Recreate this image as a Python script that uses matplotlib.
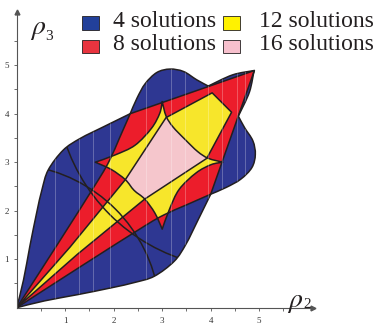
import numpy as np
import matplotlib
matplotlib.use('Agg')
import matplotlib.pyplot as plt
from matplotlib.path import Path
from matplotlib.patches import PathPatch, Rectangle, Arc

plt.rcParams['font.family'] = ['Liberation Serif', 'DejaVu Serif']
plt.rcParams['mathtext.fontset'] = 'stix'

BLUE, RED, YELLOW, PINK = '#2e3792', '#ec1d2b', '#f7e62b', '#f5c6cc'
EDGE = '#231f20'

# region outlines (data units). The picture is symmetric
# about y = x, so only the upper-left halves are listed, the rest is mirrored.

# outer boundary (4 solutions): origin -> V1 up the left side
outer_left_x = [0.0, 0.14, 0.27, 0.41, 0.52, 0.65, 0.96, 1.31, 1.79, 2.34]
outer_left_y = [0.0, 0.57, 1.26, 1.95, 2.43, 2.84, 3.25, 3.49, 3.73, 4.00]
# upper lobe: V1 -> where it meets the kite edge
lobe_x = [2.34, 2.48, 2.65, 2.89, 3.16, 3.44, 3.71, 3.95]
lobe_y = [4.00, 4.32, 4.62, 4.85, 4.92, 4.87, 4.70, 4.57]
# outer edge from there to the tip (runs just above the kite edge)
edge_x = [3.95, 4.45, 4.90]
edge_y = [4.57, 4.80, 4.89]

# red kite: origin -> V1 (the far edges go straight to the tip)
kite_x = [0.0, 0.85, 1.68, 1.92, 2.12, 2.34]
kite_y = [0.0, 1.32, 2.63, 3.05, 3.50, 4.00]
tip_x, tip_y = 4.90, 4.89

# inner (yellow) kite corners, origin -> near tip
inner_x = [0.0, 1.10, 2.24, 3.08, 4.03]
inner_y = [0.0, 1.25, 2.64, 3.92, 4.43]

# four-cusp curve
cusp_ul_x = [1.62, 2.03, 2.44, 2.78, 2.95, 3.00]   # left cusp -> top cusp
cusp_ul_y = [3.00, 3.15, 3.35, 3.70, 4.01, 4.25]
cusp_ur_x = [3.00, 3.08, 3.22, 3.47]               # top cusp -> diagonal
cusp_ur_y = [4.25, 3.95, 3.73, 3.47]
cusp_ll_x = [1.62, 1.95, 2.24, 2.42]               # left cusp -> diagonal
cusp_ll_y = [3.00, 2.85, 2.64, 2.42]

# two circular arcs in the lower-left part (centre on y = x)
arc_c = [-0.20, 4.60]
arc_r = [3.16, 3.79]
arc_t1 = [8, 194]
arc_t2 = [82, 256]

stripe_x = [0.79, 1.29, 1.58, 1.92, 2.66, 3.19, 3.47, 3.94, 4.23, 4.54, 4.71]

labels = ['4 solutions', '8 solutions', '12 solutions', '16 solutions']
leg_colors = ['#22409a', '#e8343f', '#fff200', '#f7c0cd']


def mirror(xs, ys):
    return list(ys[::-1]), list(xs[::-1])


def sym(xs, ys):
    # curve that ends on the diagonal, continued by its mirror image
    mx, my = mirror(xs, ys)
    return list(xs) + mx[1:], list(ys) + my[1:]


def smooth(xs, ys):
    p = np.column_stack([xs, ys]).astype(float)
    ext = np.vstack([p[0], p, p[-1]])
    verts, codes = [p[0]], [Path.MOVETO]
    for i in range(1, len(ext) - 2):
        p0, p1, p2, p3 = ext[i - 1], ext[i], ext[i + 1], ext[i + 2]
        verts += [p1 + (p2 - p0) / 6, p2 - (p3 - p1) / 6, p2]
        codes += [Path.CURVE4] * 3
    return verts, codes


def build(pieces):
    verts, codes = [], []
    for k, (xs, ys) in enumerate(pieces):
        v, c = smooth(xs, ys)
        if k:
            v, c = v[1:], c[1:]
        verts += v
        codes += c
    verts.append(verts[0])
    codes.append(Path.CLOSEPOLY)
    return Path(verts, codes)


outer_path = build([
    (outer_left_x, outer_left_y),
    (lobe_x, lobe_y),
    (edge_x, edge_y),
    mirror(edge_x, edge_y),
    mirror(lobe_x, lobe_y),
    mirror(outer_left_x, outer_left_y),
])
kite_path = build([
    (kite_x, kite_y),
    ([kite_x[-1], tip_x], [kite_y[-1], tip_y]),
    ([tip_x, kite_y[-1]], [tip_y, kite_x[-1]]),
    mirror(kite_x, kite_y),
])
mx, my = mirror(inner_x, inner_y)
inner_path = Path(np.column_stack([inner_x + mx, inner_y + my]))
ur = sym(cusp_ur_x, cusp_ur_y)
ll = sym(cusp_ll_x, cusp_ll_y)
cusp_path = build([
    (cusp_ul_x, cusp_ul_y),
    ur,
    mirror(cusp_ul_x, cusp_ul_y),
    (ll[0][::-1], ll[1][::-1]),
])

fig = plt.figure(figsize=(3.75, 3.28), dpi=100)
ax = fig.add_axes([16.7 / 375, 20.3 / 328, 6.1 * 48.5 / 375, 6.1 * 48.5 / 328])
ax.set_xlim(0, 6.1)
ax.set_ylim(0, 6.1)

p_outer = ax.add_patch(PathPatch(outer_path, fc=BLUE, ec='none'))
ax.add_patch(PathPatch(kite_path, fc=RED, ec='none'))
p_cusp = ax.add_patch(PathPatch(cusp_path, fc=RED, ec='none'))
ky = ax.add_patch(PathPatch(kite_path, fc=YELLOW, ec='none'))
ky.set_clip_path(p_cusp)
ax.add_patch(PathPatch(inner_path, fc=YELLOW, ec='none'))
dp = ax.add_patch(PathPatch(inner_path, fc=PINK, ec='none'))
dp.set_clip_path(p_cusp)

st = ax.vlines(stripe_x, 0, 5.2, colors='white', lw=0.6, alpha=0.3)
st.set_clip_path(p_outer)

for path in [outer_path, kite_path, inner_path, cusp_path]:
    ax.add_patch(PathPatch(path, fc='none', ec=EDGE, lw=1.1, joinstyle='round'))
for c, r, t1, t2 in zip(arc_c, arc_r, arc_t1, arc_t2):
    a = ax.add_patch(Arc((c, c), 2 * r, 2 * r, theta1=t1, theta2=t2, ec=EDGE, lw=1.1))
    a.set_clip_path(p_outer)

# axes with arrows
for s in ['top', 'right']:
    ax.spines[s].set_visible(False)
for s in ['left', 'bottom']:
    ax.spines[s].set_color('#555555')
    ax.spines[s].set_linewidth(0.8)
ax.plot([1], [0], marker='>', ms=3.5, color='#555555', transform=ax.transAxes, clip_on=False)
ax.plot([0], [1], marker='^', ms=3.5, color='#555555', transform=ax.transAxes, clip_on=False)
ax.set_xticks(range(1, 6))
ax.set_yticks(range(1, 6))
ax.set_xticks(np.arange(0.5, 6, 1.0), minor=True)
ax.set_yticks(np.arange(0.5, 6, 1.0), minor=True)
ax.tick_params(which='both', direction='out', length=2.5, width=0.6, color='#555555',
               labelsize=6.5, labelcolor='#333333')
ax.tick_params(axis='x', pad=4)
ax.tick_params(axis='y', pad=3)


def px(x, y):
    return x / 375, 1 - y / 328


# axis names
fig.text(*px(30, 34.5), r'$\rho$', fontsize=20, color=EDGE, va='baseline')
fig.text(*px(45, 39.5), '3', fontsize=11, color=EDGE, va='baseline')
fig.text(*px(287, 307), r'$\rho$', fontsize=20, color=EDGE, va='baseline')
fig.text(*px(303, 308.3), '2', fontsize=11, color=EDGE, va='baseline')

# legend
sq_left = [82, 82, 222.5, 222.5]
sq_top = [16, 39.5, 16, 39.5]
txt_left = [113.3, 113.3, 259.3, 259.3]
txt_base = [26.7, 50, 26.7, 50]
for lab, col, sx, sy, tx, ty in zip(labels, leg_colors, sq_left, sq_top, txt_left, txt_base):
    fig.patches.append(Rectangle(px(sx, sy + 13.5), 17 / 375, 13.5 / 328, fc=col, ec=EDGE,
                                 lw=0.6, transform=fig.transFigure))
    fig.text(*px(tx, ty), lab, fontsize=17, color=EDGE, va='baseline')

fig.savefig('out.png', dpi=100)
